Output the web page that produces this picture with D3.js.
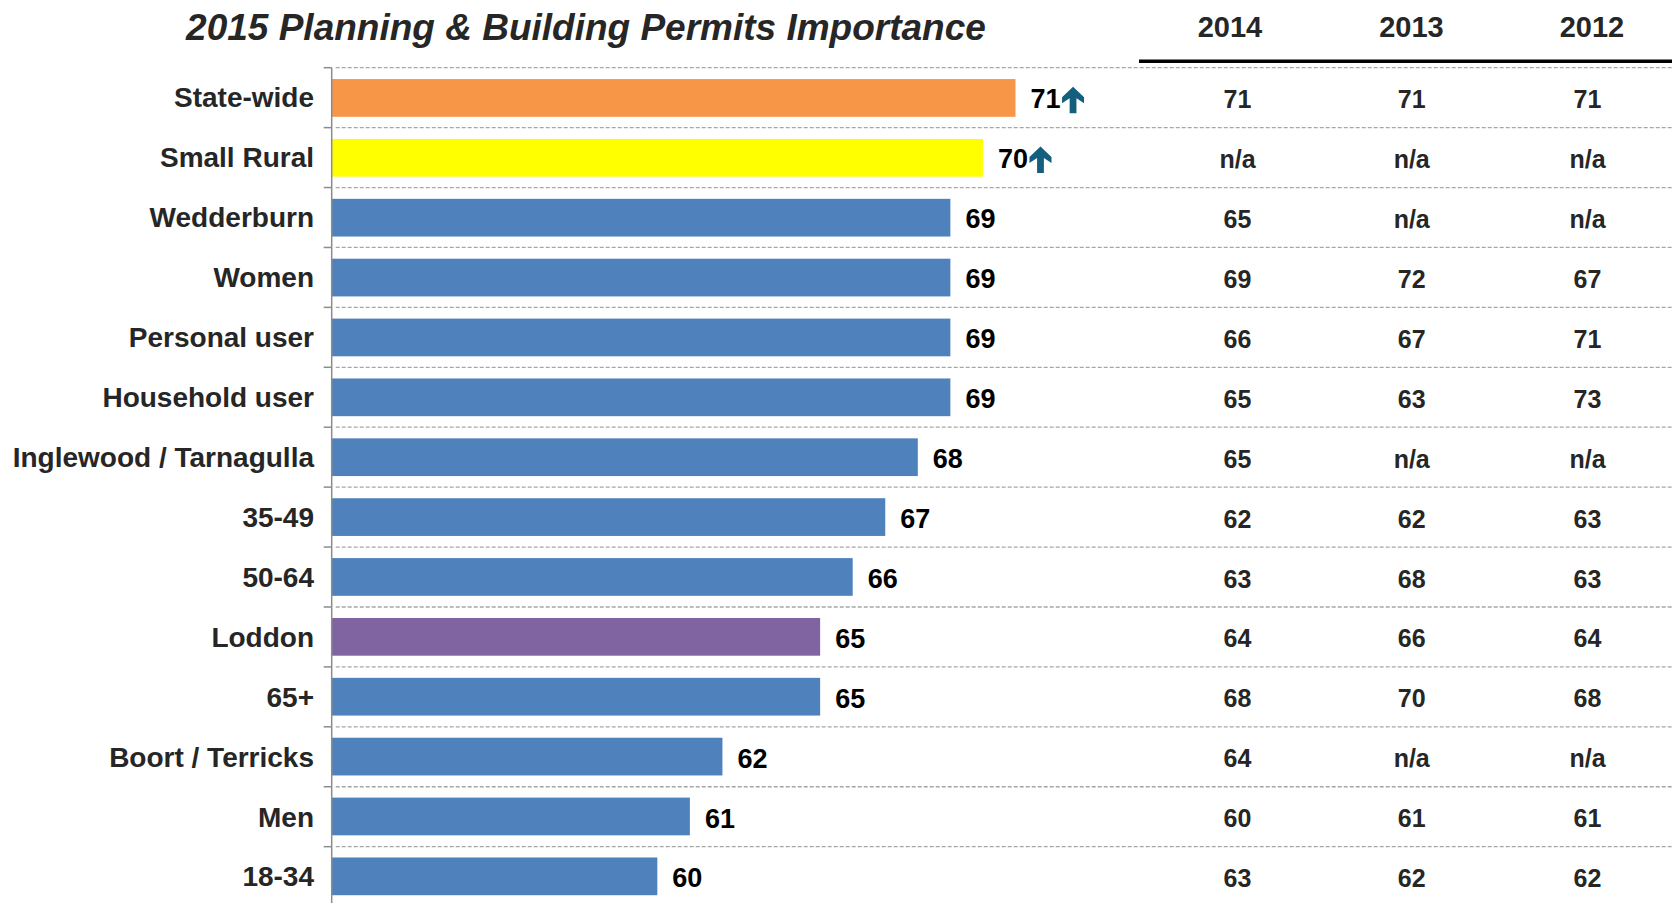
<!DOCTYPE html>
<html>
<head>
<meta charset="utf-8">
<script src="https://cdn.jsdelivr.net/npm/d3@7"></script>
<style>
  html, body { margin: 0; padding: 0; background: #fff; }
  svg { display: block; font-family: "Liberation Sans", Arial, sans-serif; }
</style>
</head>
<body>
<svg id="chart" width="1672" height="903"></svg>
<script>
// 2015 importance scores by group, with prior-year results
const categories = ["State-wide", "Small Rural", "Wedderburn", "Women", "Personal user",
  "Household user", "Inglewood / Tarnagulla", "35-49", "50-64", "Loddon", "65+",
  "Boort / Terricks", "Men", "18-34"];
const scores2015 = [71, 70, 69, 69, 69, 69, 68, 67, 66, 65, 65, 62, 61, 60];
const scores2014 = ["71", "n/a", "65", "69", "66", "65", "65", "62", "63", "64", "68", "64", "60", "63"];
const scores2013 = ["71", "n/a", "n/a", "72", "67", "63", "n/a", "62", "68", "66", "70", "n/a", "61", "62"];
const scores2012 = ["71", "n/a", "n/a", "67", "71", "73", "n/a", "63", "63", "64", "68", "n/a", "61", "62"];
const yearLabels = ["2014", "2013", "2012"];
const significantlyHigher = ["State-wide", "Small Rural"];
const barColors = { "State-wide": "#F79646", "Small Rural": "#FFFF00", "Loddon": "#8064A2" };
const defaultBarColor = "#4F81BD";

const svg = d3.select("#chart");
const W = 1672;
const axisX = 331.7, plotTop = 67.7, rowH = 59.92;
const plotBottom = plotTop + categories.length * rowH;

const x = d3.scaleLinear().domain([50, 71]).range([axisX, 1015.5]);
const y = d3.scaleBand().domain(categories).range([plotTop, plotBottom])
  .paddingInner(0.37).paddingOuter(0.19);
const boundaries = d3.range(categories.length + 1).map(i => plotTop + i * rowH);
const rowMid = d => plotTop + categories.indexOf(d) * rowH + rowH / 2;

// Title
svg.append("text")
  .attr("x", 586).attr("y", 40)
  .attr("text-anchor", "middle")
  .attr("font-size", 37).attr("font-weight", "bold").attr("font-style", "italic")
  .attr("fill", "#262626")
  .text("2015 Planning & Building Permits Importance");

// Table column positions: headers and values
const headerX = d3.scaleOrdinal().domain(yearLabels).range([1230, 1411.5, 1592]);
const valueX = d3.scaleOrdinal().domain(yearLabels).range([1237.5, 1411.7, 1587.5]);
const tableCols = [scores2014, scores2013, scores2012];

svg.selectAll("text.year").data(yearLabels).join("text")
  .attr("class", "year")
  .attr("x", d => headerX(d)).attr("y", 37.3)
  .attr("text-anchor", "middle")
  .attr("font-size", 29).attr("font-weight", "bold").attr("fill", "#262626")
  .text(d => d);

svg.append("line")
  .attr("x1", 1139).attr("x2", W).attr("y1", 61.3).attr("y2", 61.3)
  .attr("stroke", "#000").attr("stroke-width", 3.5);

// Dashed row separators
svg.selectAll("line.grid").data(boundaries.slice(0, -1)).join("line")
  .attr("class", "grid")
  .attr("x1", axisX + 4).attr("x2", W)
  .attr("y1", d => d).attr("y2", d => d)
  .attr("stroke", "#a6a6a6").attr("stroke-width", 1.3)
  .attr("stroke-dasharray", "4,2");

// Bars
svg.selectAll("rect.bar").data(categories).join("rect")
  .attr("class", "bar")
  .attr("x", x(50))
  .attr("y", d => y(d))
  .attr("width", (d, i) => x(scores2015[i]) - x(50))
  .attr("height", y.bandwidth())
  .attr("fill", d => barColors[d] || defaultBarColor);

// Category axis
const axis = svg.append("g")
  .attr("transform", `translate(${axisX},0)`);
axis.append("line")
  .attr("x1", 0).attr("x2", 0).attr("y1", plotTop).attr("y2", plotBottom)
  .attr("stroke", "#8c8c8c").attr("stroke-width", 1.5);
axis.selectAll("line.tick").data(boundaries).join("line")
  .attr("class", "tick")
  .attr("x1", -8).attr("x2", 0)
  .attr("y1", d => d).attr("y2", d => d)
  .attr("stroke", "#8c8c8c").attr("stroke-width", 1.5);
axis.selectAll("text.cat").data(categories).join("text")
  .attr("class", "cat")
  .attr("x", 314 - axisX)
  .attr("y", d => rowMid(d))
  .attr("dy", "0.35em")
  .attr("text-anchor", "end")
  .attr("font-size", 28).attr("font-weight", "bold").attr("fill", "#262626")
  .text(d => d);

// Value labels, with arrows for significant results
const labels = svg.selectAll("text.val").data(categories).join("text")
  .attr("class", "val")
  .attr("x", (d, i) => x(scores2015[i]) + 15)
  .attr("y", d => rowMid(d))
  .attr("dy", "0.4em")
  .attr("font-size", 27).attr("font-weight", "bold").attr("fill", "#000")
  .text((d, i) => scores2015[i]);

labels.each(function (d, i) {
  if (!significantlyHigher.includes(d)) return;
  const left = x(scores2015[i]) + 15 + this.getComputedTextLength() + 1.5;
  const t = rowMid(d) - 11;
  const cx = left + 11;
  const p = d3.path();
  p.moveTo(cx, t);
  p.lineTo(cx + 11, t + 10.5);
  p.lineTo(cx + 11, t + 16.5);
  p.lineTo(cx + 3.4, t + 11.5);
  p.lineTo(cx + 3.4, t + 26.5);
  p.lineTo(cx - 3.4, t + 26.5);
  p.lineTo(cx - 3.4, t + 11.5);
  p.lineTo(cx - 11, t + 16.5);
  p.lineTo(cx - 11, t + 10.5);
  p.closePath();
  svg.append("path").attr("d", p.toString()).attr("fill", "#155F7E");
});

// Prior-year table values
tableCols.forEach((col, c) => {
  svg.selectAll(`text.col${c}`).data(categories).join("text")
    .attr("class", `col${c}`)
    .attr("x", valueX(yearLabels[c]))
    .attr("y", d => rowMid(d))
    .attr("dy", "0.42em")
    .attr("text-anchor", "middle")
    .attr("font-size", 25).attr("font-weight", "bold").attr("fill", "#262626")
    .text((d, i) => col[i]);
});
</script>
</body>
</html>
